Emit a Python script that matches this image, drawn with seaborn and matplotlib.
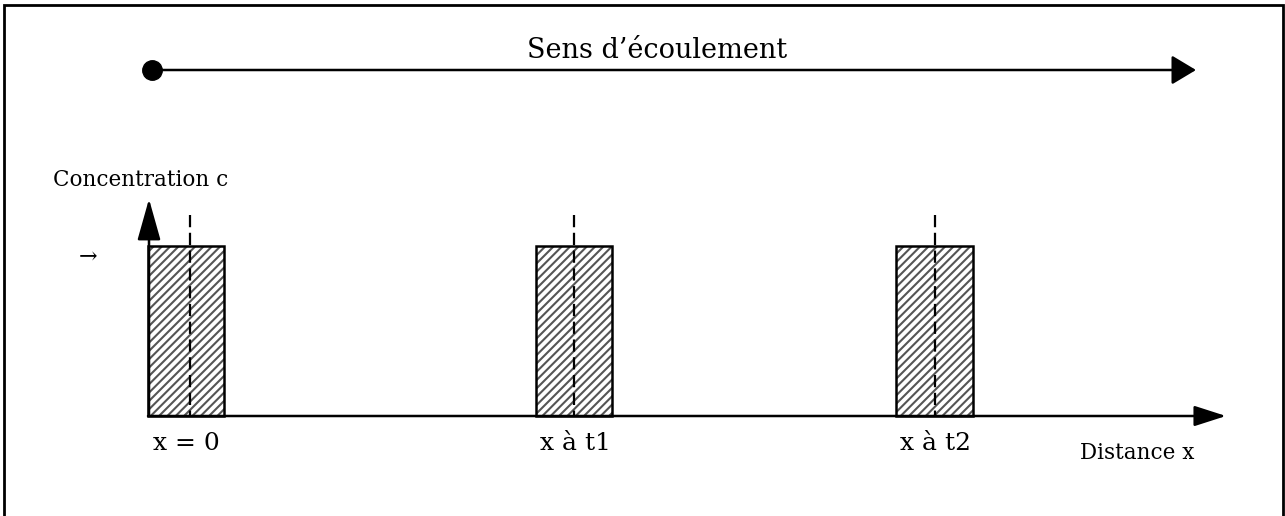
import matplotlib
matplotlib.use("Agg")
import matplotlib.pyplot as plt
import seaborn as sns
import pandas as pd

# ---- data (diagram positions in pixel units) ----
bar_labels = ["x = 0", "x à t1", "x à t2"]
bar_left = [148, 536, 896]
bar_width = [76, 76, 77]
bar_height = [170, 170, 170]
center_x = [190, 574, 935]
label_x = [186, 575, 936]
title_text = "Sens d\u2019\u00e9coulement"
ylabel_text = "Concentration c"
xlabel_text = "Distance x"

sns.set_theme(style="white")
plt.rcParams['font.family'] = ['DejaVu Serif', 'DejaVu Sans']
plt.rcParams['text.color'] = 'black'

fig = plt.figure(figsize=(12.85, 5.16), dpi=100)
ax = fig.add_axes([0, 0, 1, 1])
ax.set_xlim(0, 1285)
ax.set_ylim(516, 0)
ax.axis("off")

base_y = 416

# frame
ax.plot([4, 4, 1283, 1283], [520, 5, 5, 520], color="black", lw=2, solid_joinstyle="miter")

# bars: hatch layer then outline
df = pd.DataFrame({"left": bar_left, "width": bar_width, "height": bar_height, "label": bar_labels})
with plt.rc_context({"hatch.linewidth": 1.5}):
    ax.bar(df["left"], -df["height"], width=df["width"], bottom=base_y, align="edge",
           color="white", edgecolor="#555555", hatch="////", linewidth=0, zorder=2)
ax.bar(df["left"], -df["height"], width=df["width"], bottom=base_y, align="edge",
       fill=False, edgecolor="black", linewidth=1.8, zorder=3)

# dashed center lines
for cx in center_x:
    ax.plot([cx, cx], [215, base_y], color="black", lw=1.6,
            linestyle=(0, (5.5, 2.5)), zorder=4)

# x axis arrow
ax.annotate("", xy=(1226, base_y), xytext=(148, base_y),
            arrowprops=dict(arrowstyle="-|>,head_length=1.4,head_width=0.45", color="black",
                            lw=1.8, shrinkA=0, shrinkB=0, mutation_scale=14), zorder=5)
# y axis arrow
ax.annotate("", xy=(149, 199), xytext=(149, base_y),
            arrowprops=dict(arrowstyle="-|>,head_length=1.6,head_width=0.45", color="black",
                            lw=1.8, shrinkA=0, shrinkB=0, mutation_scale=16), zorder=5)
# flow arrow
ax.plot([152], [70], marker="o", ms=14, color="black")
ax.annotate("", xy=(1196, 70), xytext=(152, 70),
            arrowprops=dict(arrowstyle="-|>,head_length=1.0,head_width=0.6", color="black",
                            lw=1.8, shrinkA=0, shrinkB=0, mutation_scale=15))

ax.text(657, 50, title_text, ha="center", va="center", fontsize=19.5)
ax.text(53, 180, ylabel_text, ha="left", va="center", fontsize=15.5)
ax.text(88, 258, "\u2192", ha="center", va="center", fontsize=16, family=['DejaVu Serif', 'DejaVu Sans'])
ax.text(1137, 453, xlabel_text, ha="center", va="center", fontsize=15.5)
for x, lab in zip(label_x, bar_labels):
    ax.text(x, 443, lab, ha="center", va="center", fontsize=18)

fig.savefig("out.png", dpi=100)
